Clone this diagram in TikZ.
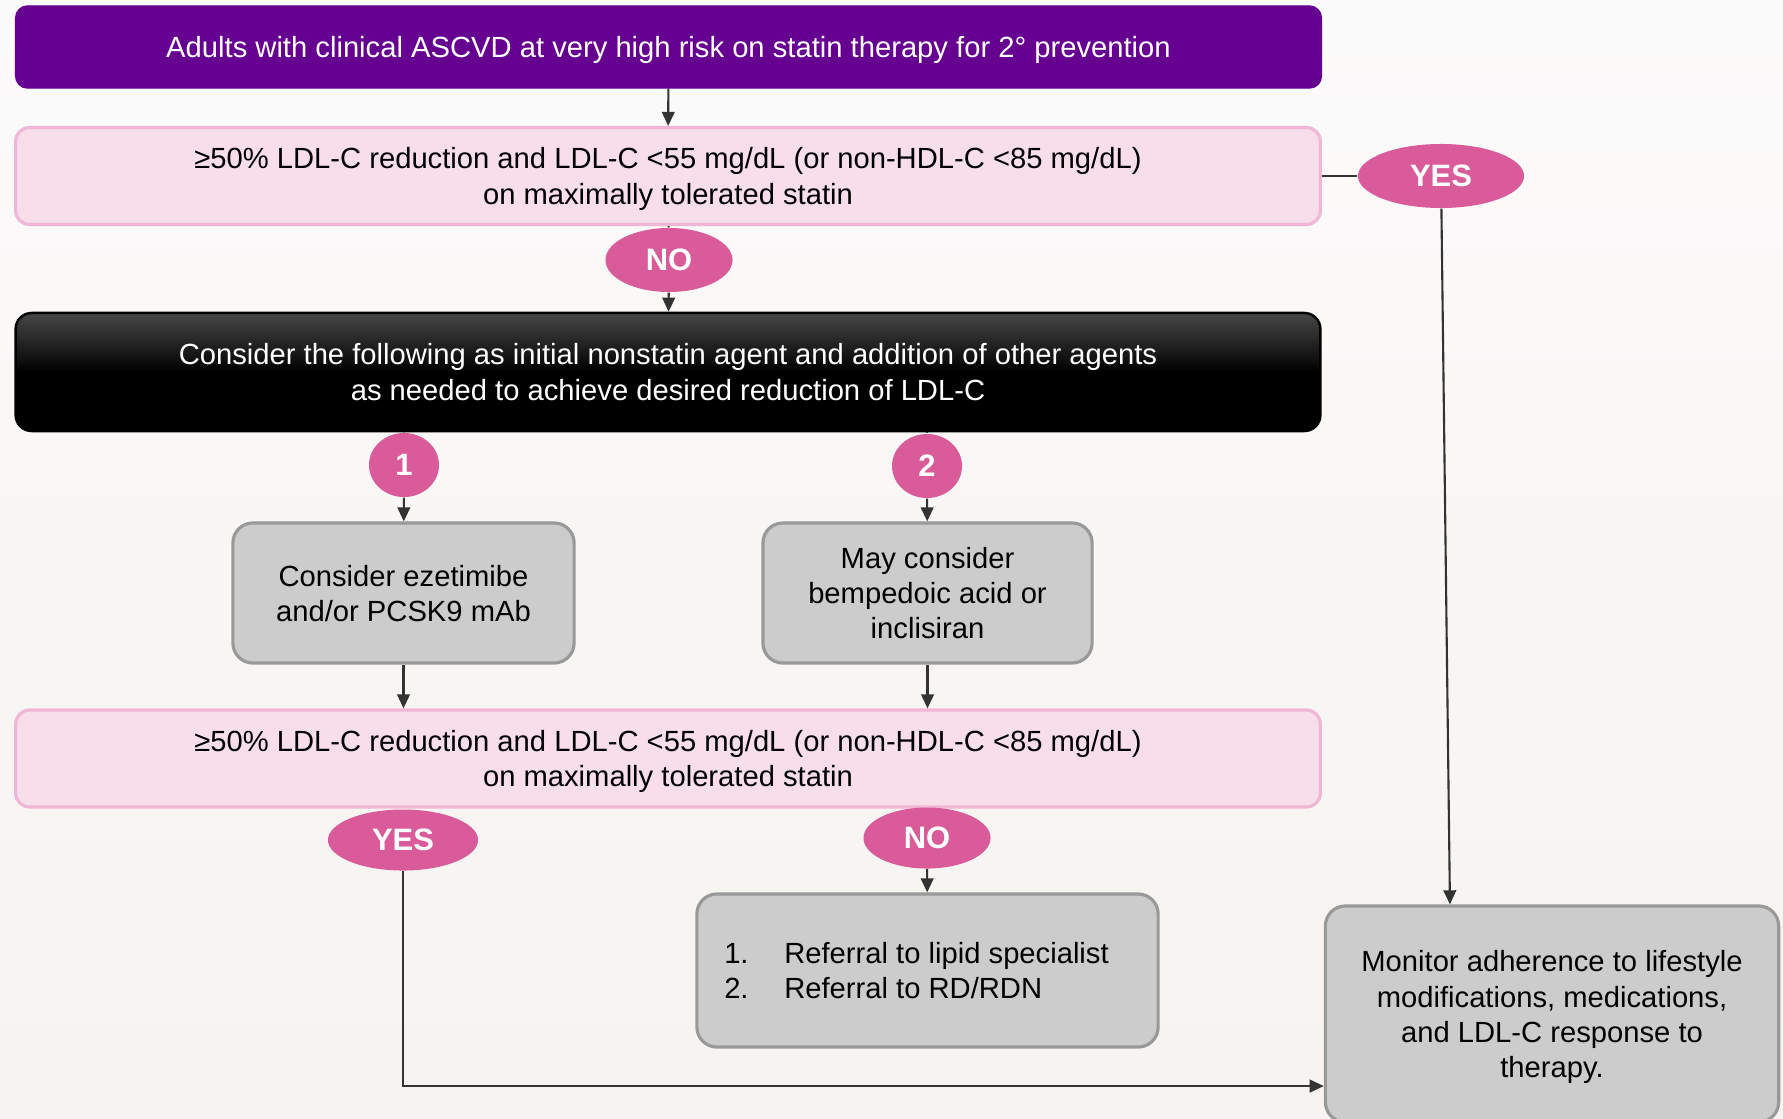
\documentclass[tikz,border=0pt]{standalone}
\usepackage{fontspec}
\setmainfont{Liberation Sans}
\usepackage{tikz}
\usetikzlibrary{shapes.geometric, arrows.meta}

\definecolor{bgtop}{HTML}{FCFBFB}
\definecolor{bgbot}{HTML}{F6F3F0}
\definecolor{hdrpurple}{HTML}{660091}
\definecolor{critfill}{HTML}{F7DEEA}
\definecolor{critline}{HTML}{EFB6D5}
\definecolor{tagpink}{HTML}{D95B9A}
\definecolor{optfill}{HTML}{CCCCCC}
\definecolor{optline}{HTML}{999999}
\definecolor{arrowgrey}{HTML}{333333}

\tikzset{
  boxtext/.style = {font=\fontsize{8.3}{10}\selectfont, align=center, inner sep=0pt, text depth=0pt},
  header/.style = {boxtext, fill=hdrpurple, draw=hdrpurple, text=white, rounded corners=0.12cm,
    minimum width=13.05cm, minimum height=0.82cm},
  criterion/.style = {boxtext, fill=critfill, draw=critline, line width=0.9pt, rounded corners=0.14cm,
    minimum width=13.04cm, minimum height=0.97cm},
  action/.style = {boxtext, draw=black, line width=0.7pt, rounded corners=0.16cm, text=white,
    top color=black!72, bottom color=black, middle color=black, minimum width=13.04cm, minimum height=1.18cm},
  option/.style = {boxtext, fill=optfill, draw=optline, line width=0.9pt, rounded corners=0.2cm},
  tag/.style = {ellipse, fill=tagpink, text=white, font=\fontsize{8.8}{10}\selectfont\bfseries, inner sep=0pt},
  link/.style = {draw=arrowgrey, line width=0.6pt},
  flow/.style = {link, -{Triangle[length=4pt, width=3.6pt]}}
}

\begin{document}
\begin{tikzpicture}[x=0.01cm, y=-0.01cm]
  \fill[top color=bgtop, bottom color=bgbot] (0,0) rectangle (1783,1118);
  \useasboundingbox (0,0) rectangle (1783,1118);

  \node[header] (start) at (668.5,47) {Adults with clinical ASCVD at very high risk on statin therapy for 2° prevention};
  \node[criterion] (crit1) at (668,176) {≥50\% LDL-C reduction and LDL-C <55 mg/dL (or non-HDL-C <85 mg/dL)\\on maximally tolerated statin};
  \node[tag, minimum width=1.27cm, minimum height=0.64cm] (no1) at (669,260) {NO};
  \node[action] (consider) at (668,372) {Consider the following as initial nonstatin agent and addition of other agents\\as needed to achieve desired reduction of LDL-C};
  \node[tag, minimum width=0.7cm, minimum height=0.64cm] (n1) at (404,465) {1};
  \node[tag, minimum width=0.7cm, minimum height=0.64cm] (n2) at (927,466) {2};
  \node[option, minimum width=3.41cm, minimum height=1.4cm] (opt1) at (403.5,593) {Consider ezetimibe\\and/or PCSK9 mAb};
  \node[option, minimum width=3.29cm, minimum height=1.4cm] (opt2) at (927.5,593) {May consider\\bempedoic acid or\\inclisiran};
  \node[criterion] (crit2) at (668,758.5) {≥50\% LDL-C reduction and LDL-C <55 mg/dL (or non-HDL-C <85 mg/dL)\\on maximally tolerated statin};
  \node[tag, minimum width=1.5cm, minimum height=0.61cm] (yesL) at (403,840) {YES};
  \node[tag, minimum width=1.27cm, minimum height=0.61cm] (no2) at (927,838) {NO};
  \node[option, minimum width=4.61cm, minimum height=1.53cm, align=left] (refer) at (927.5,970.5)
    {\makebox[0.6cm][l]{1.}Referral to lipid specialist\hspace*{0.22cm}\\\makebox[0.6cm][l]{2.}Referral to RD/RDN};
  \node[tag, minimum width=1.66cm, minimum height=0.64cm] (yesR) at (1441,176) {YES};
  \node[option, minimum width=4.53cm, minimum height=2.16cm] (monitor) at (1552,1014)
    {Monitor adherence to lifestyle\\modifications, medications,\\and LDL-C response to\\therapy.};

  % connectors
  \draw[flow] (start) -- (crit1);
  \draw[link] (crit1) -- (no1);
  \draw[flow] (no1) -- (consider);
  \draw[link] (consider.south -| n1) -- (n1);
  \draw[flow] (n1) -- (opt1);
  \draw[link] (consider.south -| n2) -- (n2);
  \draw[flow] (n2) -- (opt2);
  \draw[flow] (opt1) -- (opt1 |- crit2.north);
  \draw[flow] (opt2) -- (opt2 |- crit2.north);
  \draw[flow] (no2) -- (refer);
  \draw[link] (crit1) -- (yesR);
  \draw[flow] (yesR) -- ([xshift=-1.02cm]monitor.north);
  \draw[flow] (yesL) |- ([yshift=-0.72cm]monitor.west);
\end{tikzpicture}
\end{document}
